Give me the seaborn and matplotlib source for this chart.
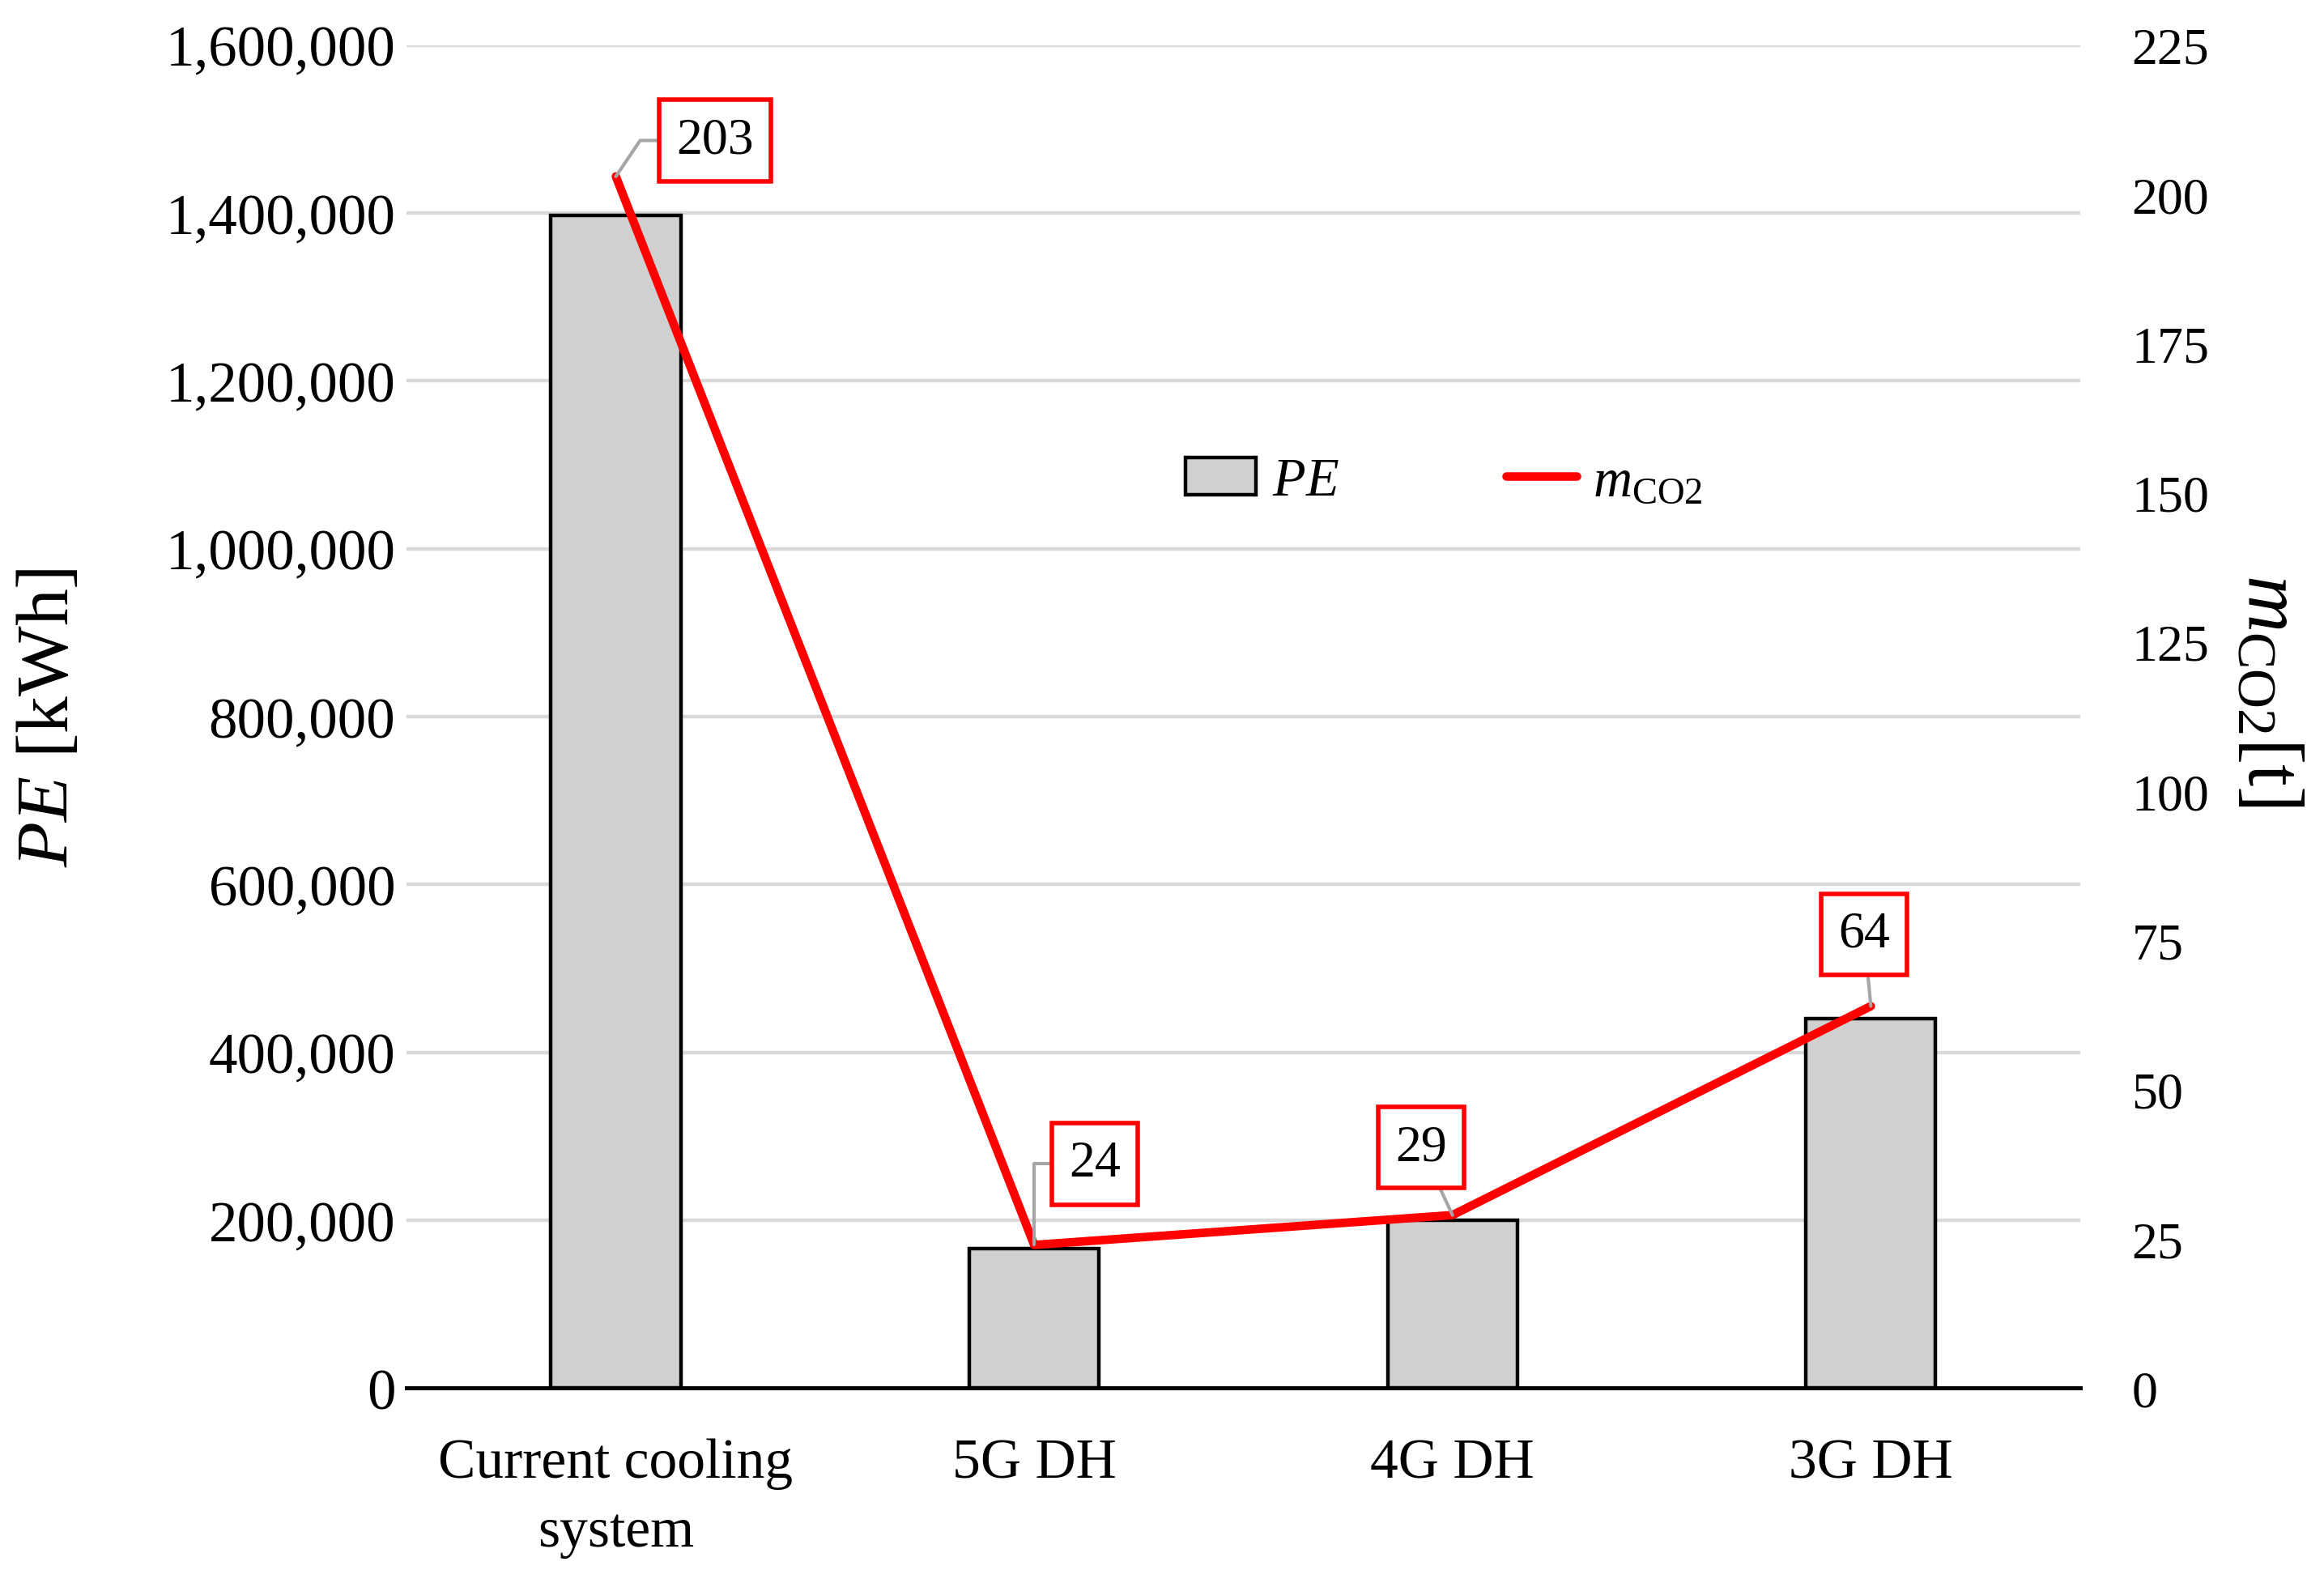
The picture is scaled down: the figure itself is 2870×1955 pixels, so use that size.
import numpy as np
import pandas as pd
import matplotlib.pyplot as plt
import seaborn as sns
from matplotlib.patches import Patch
from matplotlib.lines import Line2D

# values
systems = ['Current cooling\nsystem', '5G DH', '4G DH', '3G DH']
pe_kwh = [1397000, 166000, 200000, 440000]
co2_t = [203, 24, 29, 64]

sns.set_style('white')
plt.rcParams['font.family'] = ['Liberation Serif', 'DejaVu Serif']
plt.rcParams['mathtext.fontset'] = 'custom'
plt.rcParams['mathtext.rm'] = 'Liberation Serif'
plt.rcParams['mathtext.it'] = 'Liberation Serif:italic'
for k in ['text.color', 'axes.labelcolor', 'xtick.color', 'ytick.color']:
    plt.rcParams[k] = 'black'

df = pd.DataFrame({'system': systems, 'PE': pe_kwh, 'CO2': co2_t})

fig, ax = plt.subplots(figsize=(14.35, 9.78), dpi=200)
fig.subplots_adjust(left=0.175, right=0.895, top=0.971, bottom=0.123)

sns.barplot(data=df, x='system', y='PE', ax=ax, color='#d0d0d0', width=0.31,
            edgecolor='black', linewidth=1.6, saturation=1, zorder=3)
ax.set_xlim(-0.5, 3.5)
ax.set_ylim(0, 1600000)
ax.set_yticks(np.arange(0, 1600001, 200000))
ax.set_yticklabels([f'{v:,}' for v in range(0, 1600001, 200000)])
ax.yaxis.grid(True, color='#d9d9d9', linewidth=1.6, zorder=0)
ax.set_axisbelow(True)
for s in ['top', 'left', 'right']:
    ax.spines[s].set_visible(False)
ax.spines['bottom'].set_color('black')
ax.spines['bottom'].set_linewidth(1.8)
ax.tick_params(axis='y', length=0, pad=5, labelsize=25.5)
ax.tick_params(axis='x', length=0, pad=22, labelsize=25)
for t in ax.get_xticklabels():
    t.set_linespacing(1.45)
ax.set_xlabel('')
ax.set_ylabel('$PE$ [kWh]', fontsize=33)
ax.yaxis.set_label_coords(-0.193, 0.5)

ax2 = ax.twinx()
sns.lineplot(x=np.arange(len(systems)), y=co2_t, ax=ax2, color='red',
             linewidth=3.8, zorder=5)
ax2.set_ylim(0, 225)
ax2.set_yticks(np.arange(0, 226, 25))
ax2.tick_params(axis='y', length=0, pad=23, labelsize=23)
for s in ['top', 'left', 'right', 'bottom']:
    ax2.spines[s].set_visible(False)
ax2.set_ylabel('$m_{\\rm CO2}$[t]', fontsize=35, rotation=-90, va='center')
ax2.yaxis.set_label_coords(1.112, 0.52)

# value labels in red boxes
offsets = [(44, 16), (27, 36), (-14, 30), (-3, 32)]
conns = ['angle,angleA=0,angleB=56', 'angle,angleA=0,angleB=90', 'arc3', 'arc3']
for i, (v, off, cs) in enumerate(zip(co2_t, offsets, conns)):
    ax2.annotate(str(v), xy=(i, v), xytext=off, textcoords='offset points',
                 ha='center', va='center', fontsize=23,
                 bbox=dict(boxstyle='square,pad=0.33', fc='white', ec='red', lw=2),
                 arrowprops=dict(arrowstyle='-', color='#a6a6a6', lw=1.5,
                                 shrinkA=0, shrinkB=0, connectionstyle=cs),
                 zorder=6)

handles = [Patch(facecolor='#d0d0d0', edgecolor='black', linewidth=1.6),
           Line2D([0], [0], color='red', linewidth=3.8, solid_capstyle='round')]
ax2.legend(handles, ['$PE$', '$m_{\\rm CO2}$'], loc='center',
           bbox_to_anchor=(0.62, 0.675), ncol=2, frameon=False, fontsize=24,
           columnspacing=3.1, handlelength=1.3, handletextpad=0.3)

fig.savefig('out.png', dpi=200)
